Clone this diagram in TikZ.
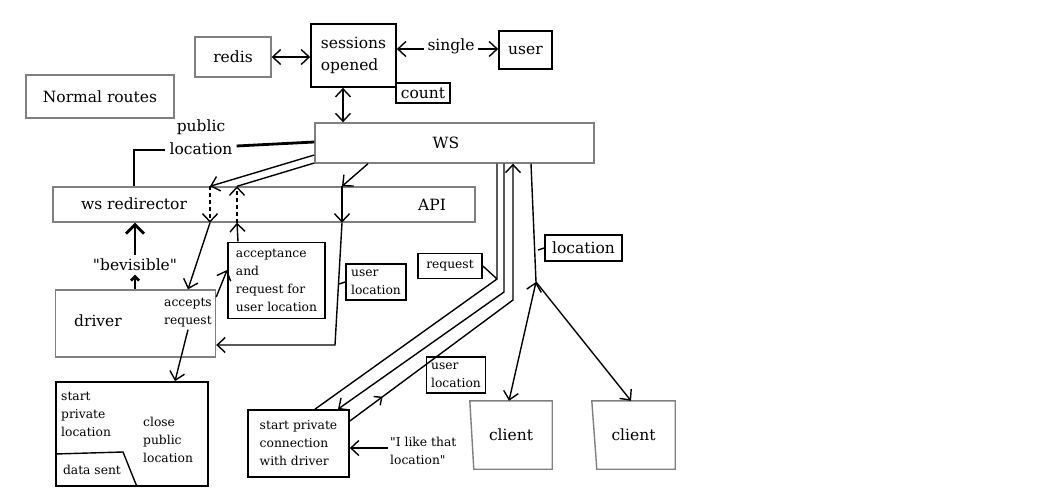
\documentclass[tikz,border=0pt]{standalone}
\usepackage{fontspec}
\setmainfont{DejaVu Serif}[Ligatures=TeXOff]
\usetikzlibrary{arrows.meta,calc,decorations.markings}
\begin{document}
\begin{tikzpicture}[x=1pt,y=-1pt,
  font=\fontsize{15.5}{22.5}\selectfont,
  bbox/.style={draw=black,line width=1.7pt,inner sep=0pt,align=left},
  gbox/.style={draw=gray,line width=1.4pt,inner sep=0pt,align=left},
  sm/.style={font=\fontsize{12.3}{18}\selectfont},
  conn/.style={line width=1.4pt},
  thickconn/.style={line width=2.8pt},
  arr/.style={-{Straight Barb[length=8pt,width=15pt]}},
  rarr/.style={{Straight Barb[length=8pt,width=15pt]}-},
  barr/.style={{Straight Barb[length=8pt,width=15pt]}-{Straight Barb[length=8pt,width=15pt]}},
  bigarr/.style={-{Straight Barb[length=9pt,width=18pt]}},
  smallarr/.style={-{Straight Barb[length=4pt,width=8pt]}},
  dashline/.style={dash pattern=on 4pt off 3pt},
]
\fill[white] (0,0) rectangle (1038,494);
\useasboundingbox (0,0) rectangle (1038,494);

% nodes
\node[gbox,minimum width=76,minimum height=40] (redis) at (233,57) {redis};
\node[gbox,minimum width=148,minimum height=43] (normal) at (100,96.5) {Normal routes};
\node[bbox,minimum width=85,minimum height=63] (sess) at (353.5,55.5) {sessions\\opened};
\node[bbox,minimum width=54,minimum height=20] (count) at (423,93) {count};
\node[bbox,minimum width=53,minimum height=38] (user) at (525.5,50) {user};
\node[inner sep=3pt] (single) at (451,46) {single};
\node[gbox,minimum width=279,minimum height=40] (ws) at (454.5,143) {};
\node (wst) at (446,143) {WS};
\node[gbox,minimum width=422,minimum height=35] (api) at (264,204.5) {};
\node (wsr) at (134,204) {ws redirector};
\node (apit) at (432,205) {API};
\node[align=center,inner sep=4pt] (pub) at (201,137) {public\\location};
\node[gbox,minimum width=160,minimum height=67] (driver) at (135.5,323.5) {};
\node (drivert) at (98,321) {driver};
\node[sm,align=left,inner sep=2pt] (accreq) at (188,313) {accepts\\request};
\node (bev) at (135,265) {"bevisible"};
\node[bbox,sm,minimum width=97,minimum height=76] (accept) at (276.5,280.5) {acceptance\\and\\request for\\user location};
\node[bbox,sm,minimum width=60,minimum height=36] (uloc1) at (376,282) {user\\location};
\node[bbox,sm,minimum width=64,minimum height=25] (req) at (450,266) {request};
\node[bbox,minimum width=77,minimum height=26] (loc) at (583.5,248) {location};
\node[bbox,minimum width=152,minimum height=104] (spl) at (132,434) {};
\node[sm,anchor=west,align=left,inner sep=0pt] (splt) at (61,414) {start\\private\\location};
\node[sm,anchor=west,align=left,inner sep=0pt] (cpl) at (143,440) {close\\public\\location};
\node[sm,inner sep=0pt] (ds) at (92,470) {data sent};
\node[bbox,sm,minimum width=101,minimum height=67] (spc) at (298.5,443.5) {start private\\connection\\with driver};
\node[bbox,sm,minimum width=59,minimum height=36] (uloc2) at (456,375) {user\\location};
\node[minimum width=82,minimum height=68,inner sep=0pt] (c1) at (511,435) {client};
\node[minimum width=83,minimum height=68,inner sep=0pt] (c2) at (633.5,435) {client};
\node[sm,anchor=west,align=left,inner sep=2pt] (like) at (388,451) {"I like that\\location"};

% client shapes
\draw[gbox] (c1.north west) -- (c1.north east) -- (c1.south east) -- ([xshift=4pt]c1.south west) -- cycle;
\draw[gbox] (c2.north west) -- (c2.north east) -- (c2.south east) -- ([xshift=5pt]c2.south west) -- cycle;

% data sent sub box
\draw[conn] (spl.west |- 0,454) -- (123,452) -- (137,0 |- spl.south);

% helper coordinates on the redirector / API bar
\coordinate (r1t) at (210,0 |- api.north);
\coordinate (r1b) at (210,0 |- api.south);
\coordinate (r2t) at (237,0 |- api.north);
\coordinate (r2b) at (237,0 |- api.south);
\coordinate (a1t) at (342,0 |- api.north);
\coordinate (a1b) at (342,0 |- api.south);
\coordinate (a2) at (335,345);
\coordinate (ja) at (497,279);
\coordinate (jb) at (504,292);
\coordinate (jc) at (513,300);
\coordinate (lj) at (536,282);

% top connectors
\draw[conn,barr] (redis.east) -- (redis.east -| sess.west);
\draw[conn,barr] (343,0 |- sess.south) -- (343,0 |- ws.north);
\draw[conn,rarr] (sess.east |- 0,49) -- (single.west |- 0,49);
\draw[conn,arr] (single.east |- 0,49) -- (user.west |- 0,49);

% public location
\draw[thickconn] (ws.west |- 0,142) -- (pub.east |- 0,146);
\draw[thickconn] (pub.west |- 0,150) -| (134,0 |- api.north);

% WS <-> redirector
\draw[conn,arr] (ws.west |- 0,155) -- (r1t);
\draw[conn,dashline,arr] (r1t) -- (r1b);
\draw[conn,arr] (r1b) -- (188,0 |- driver.north);
\draw[conn,arr] (238,0 |- accept.north) -- (r2b);
\draw[conn,dashline,arr] (r2b) -- (r2t);
\draw[conn] (r2t) -- (ws.west |- 0,163);

% WS -> API -> driver
\draw[conn,arr] (368,0 |- ws.south) -- (a1t);
\draw[conn,arr] (a1t) -- (a1b);
\draw[conn,arr] (a1b) -- (a2) -- (driver.east |- a2);
\draw[conn] (uloc1.west) -- (339,284);

% driver connectors
\draw[conn,arr] (driver.east |- 0,297) -- (accept.west |- 0,270);
\draw[conn,arr] (accreq.south) -- (175,0 |- spl.north);
\draw[thickconn,bigarr] (bev.north) -- (135,0 |- api.south);
\draw[thickconn,smallarr] (135,0 |- driver.north) -- (bev.south);

% three lines to private connection
\draw[conn] (497,0 |- ws.south) -- (ja) -- (315,0 |- spc.north);
\draw[conn] (req.east) -- (ja);
\draw[conn,arr] (504,0 |- ws.south) -- (jb) -- (338,0 |- spc.north);
\draw[conn,arr,postaction={decorate},
  decoration={markings,mark=at position 0.12 with {\arrow{Straight Barb[length=6pt,width=11pt]}}}]
  (spc.east |- 0,421) -- (jc) -- (513,0 |- ws.south);
\draw[conn,arr] (like.west |- 0,448) -- (spc.east |- 0,448);

% location to clients
\draw[conn] (531,0 |- ws.south) -- (lj);
\draw[conn] (loc.west) -- (538,250);
\draw[conn,barr] (lj) -- (509,0 |- c1.north);
\draw[conn,arr] (lj) -- (631,0 |- c2.north);
\end{tikzpicture}
\end{document}
